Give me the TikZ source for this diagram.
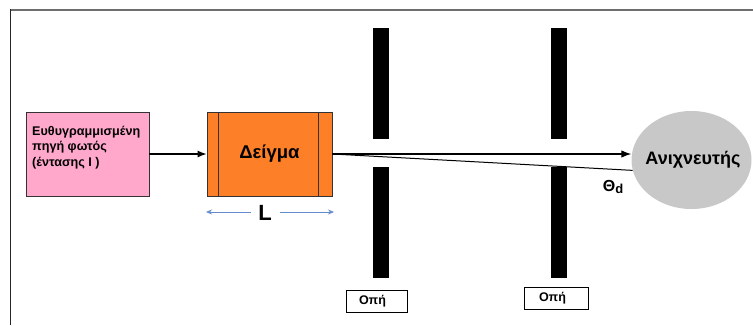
\documentclass[tikz,border=0pt]{standalone}
\usepackage{fontspec}
\setmainfont{Liberation Sans}
\usetikzlibrary{arrows.meta,shapes.geometric}
\definecolor{pinkbox}{RGB}{255,168,204}
\definecolor{orangebox}{RGB}{253,128,40}
\definecolor{detgray}{RGB}{200,200,200}
\definecolor{lblue}{RGB}{100,140,205}
\definecolor{framegray}{RGB}{110,110,110}
\tikzset{
  boxfont/.style={font=\bfseries\fontsize{12.6}{15.5}\selectfont},
  beam/.style={draw=black, line width=1.2pt},
  bar/.style={fill=black},
  holebox/.style={draw=black, line width=0.8pt, fill=white, font=\bfseries\fontsize{12.5}{13}\selectfont, align=left, inner ysep=0pt, minimum height=22pt, anchor=center},
  larrow/.style={draw=lblue, line width=0.8pt, -{Stealth[length=6pt,width=5pt]}}
}
\begin{document}
\begin{tikzpicture}[x=1pt,y=-1pt]
\useasboundingbox (0,0) rectangle (753,325);
% frame
\draw[framegray, line width=2.2pt] (10,10) -- (753,10);
\draw[black!85, line width=1.6pt] (10.5,9) -- (10.5,325);
% source
\node[draw=black!80, line width=0.8pt, fill=pinkbox, minimum width=123pt, minimum height=84pt, inner sep=0pt] (src) at (87.5,154) {};
\node[boxfont, align=left, anchor=west, inner sep=0pt] (srctext) at (32,147.5) {Ευθυγραμμισμένη\\πηγή φωτός\\(έντασης Ι )};
% sample
\node[draw=black!80, line width=0.8pt, fill=orangebox, minimum width=125pt, minimum height=84pt, inner sep=0pt, font=\bfseries\fontsize{18.5}{20}\selectfont] (smp) at (269.5,154) {Δείγμα};
\draw[black!80, line width=0.8pt] ([xshift=12pt]smp.north west) -- ([xshift=12pt]smp.south west);
\draw[black!80, line width=0.8pt] ([xshift=-14pt]smp.north east) -- ([xshift=-14pt]smp.south east);
% detector
\node[ellipse, fill=detgray, minimum width=120pt, minimum height=98pt, inner sep=0pt] (det) at (691.5,160) {};
\node[font=\bfseries\fontsize{18}{18}\selectfont, inner sep=0pt] (dettext) at (693,160) {Ανιχνευτής};
% slits
\fill[bar] (373,28) rectangle (389,139);
\fill[bar] (373,167) rectangle (389,278);
\fill[bar] (551,28) rectangle (567,139);
\fill[bar] (551,167) rectangle (567,278);
% beams
\draw[beam, -{Latex[length=9pt,width=7pt]}] (src.east) -- (smp.west);
\draw[beam, -{Latex[length=10pt,width=7.5pt]}] (smp.east) -- (det.west |- smp.east);
\draw[black, line width=1pt] (smp.east) -- (det.190);
% L
\node[font=\bfseries\fontsize{22}{22}\selectfont, inner sep=1pt] (L) at (265,213) {L};
\coordinate (la) at (206,212);
\coordinate (lb) at (334,212);
\draw[larrow] (251,212) -- (la);
\draw[larrow] (280,212) -- (lb);
% theta
\node[font=\bfseries\fontsize{16}{16}\selectfont, inner sep=0pt] (th) at (613,187) {Θ\raisebox{-2.5pt}{\fontsize{13}{13}\selectfont d}};
% holes
\node[holebox, text width=35pt, inner xsep=13pt] (h1) at (376.5,301.5) {Οπή};
\node[holebox, text width=34pt, inner xsep=15pt] (h2) at (556,298) {Οπή};
\end{tikzpicture}
\end{document}
